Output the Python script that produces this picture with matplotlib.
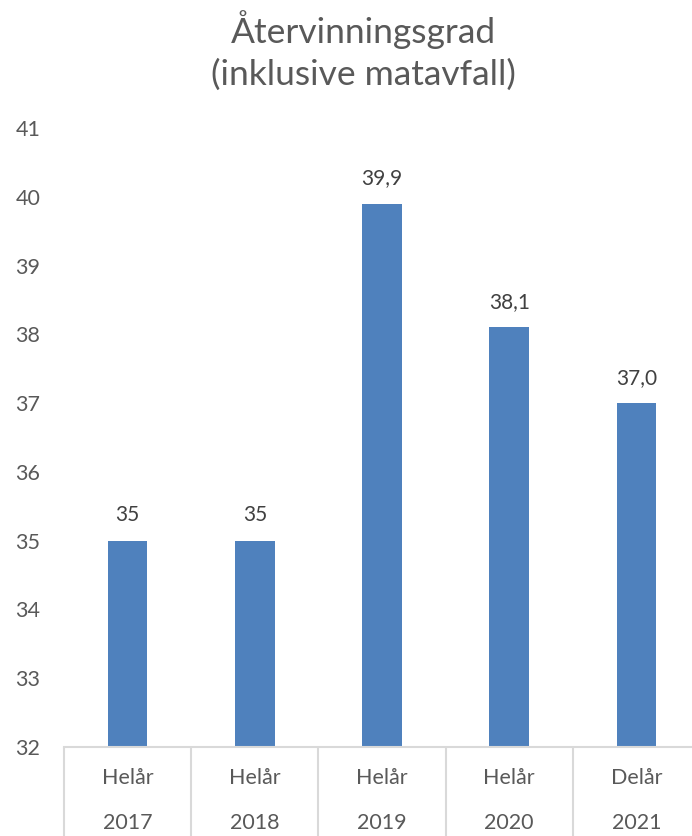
import matplotlib
matplotlib.use("Agg")
import matplotlib.pyplot as plt
import matplotlib.transforms as mtransforms
import numpy as np

# data
periods = ["Helår", "Helår", "Helår", "Helår", "Delår"]
years = ["2017", "2018", "2019", "2020", "2021"]
rates = [35, 35, 39.9, 38.1, 37.0]
rate_labels = ["35", "35", "39,9", "38,1", "37,0"]

plt.rcParams['font.family'] = ['Lato', 'DejaVu Sans']

W, H = 692, 836
fig = plt.figure(figsize=(W / 100, H / 100), dpi=100)
ax = fig.add_axes([64 / W, (H - 747) / H, (700 - 64) / W, (747 - 128) / H])

x = np.arange(len(years))
ax.bar(x, rates, width=0.31, color="#4f81bd", zorder=2)

for xi, v, lab in zip(x, rates, rate_labels):
    ax.annotate(lab, (xi, v), xytext=(0, 11), textcoords="offset points",
                ha="center", va="bottom", fontsize=15, color="#404040")

ax.set_ylim(32, 41)
ax.set_xlim(-0.5, len(years) - 0.5)
ax.set_yticks(np.arange(32, 42, 1))
ax.tick_params(axis="y", length=0, pad=17, labelsize=15.5, labelcolor="#595959")

# category boundaries drawn as long minor ticks
ax.set_xticks([])
ax.set_xticks(np.arange(-0.5, len(years)), minor=True)
ax.tick_params(axis="x", which="minor", length=(H - 747) * 0.72, width=1.5,
               color="#d9d9d9", direction="out")

trans = mtransforms.blended_transform_factory(ax.transData, fig.transFigure)
for xi, p, yr in zip(x, periods, years):
    ax.text(xi, (H - 778) / H, p, transform=trans, ha="center", va="center",
            fontsize=15.5, color="#595959")
    ax.text(xi, (H - 823) / H, yr, transform=trans, ha="center", va="center",
            fontsize=15.5, color="#595959")

for s in ["left", "top", "right"]:
    ax.spines[s].set_visible(False)
ax.spines["bottom"].set_color("#d9d9d9")
ax.spines["bottom"].set_linewidth(1.5)

fig.text(363 / W, (H - 30) / H, "Återvinningsgrad", ha="center", va="center",
         fontsize=25.5, color="#595959")
fig.text(363 / W, (H - 75) / H, "(inklusive matavfall)", ha="center", va="center",
         fontsize=25.5, color="#595959")

fig.savefig("out.png", dpi=100)
